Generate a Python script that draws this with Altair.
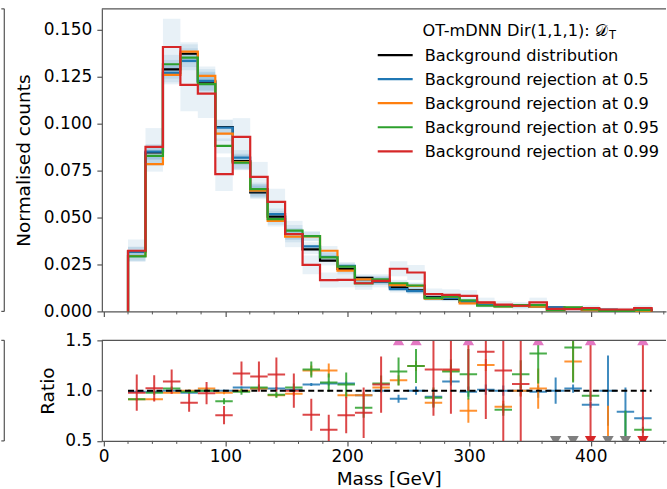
import altair as alt
import numpy as np
import pandas as pd

FONT = "DejaVu Sans"
AX = "#555555"

# ---------------- data ----------------
mass_lo, mass_hi, n_bins = 20.0, 450.0, 30
edges = np.linspace(mass_lo, mass_hi, n_bins + 1)

series_names = [
    "Background distribution",
    "Background rejection at 0.5",
    "Background rejection at 0.9",
    "Background rejection at 0.95",
    "Background rejection at 0.99",
]
series_colors = ["#000000", "#1f77b4", "#ff7f0e", "#2ca02c", "#d62728"]

hist_bkg = [0.0320, 0.0846, 0.1289, 0.1372, 0.1223, 0.0982, 0.0800, 0.0633, 0.0505, 0.0412,
            0.0330, 0.0270, 0.0226, 0.0178, 0.0160, 0.0128, 0.0112, 0.0076, 0.0066, 0.0051,
            0.0038, 0.0031, 0.0029, 0.0025, 0.0020, 0.0015, 0.0012, 0.0008, 0.0007, 0.0010]
hist_r50 = [0.0318, 0.0851, 0.1270, 0.1334, 0.1227, 0.0979, 0.0819, 0.0640, 0.0518, 0.0412,
            0.0346, 0.0291, 0.0243, 0.0170, 0.0161, 0.0119, 0.0108, 0.0072, 0.0070, 0.0050,
            0.0037, 0.0031, 0.0029, 0.0024, 0.0021, 0.0015, 0.0010, 0.0008, 0.0006, 0.0007]
hist_r90 = [0.0295, 0.0784, 0.1259, 0.1383, 0.1254, 0.0947, 0.0795, 0.0643, 0.0482, 0.0398,
            0.0400, 0.0323, 0.0217, 0.0170, 0.0166, 0.0140, 0.0136, 0.0068, 0.0078, 0.0043,
            0.0046, 0.0026, 0.0029, 0.0025, 0.0006, 0.0019, 0.0006, 0.0003, 0.0002, 0.0003]
hist_r95 = [0.0293, 0.0828, 0.1316, 0.1351, 0.1210, 0.0881, 0.0792, 0.0651, 0.0491, 0.0430,
            0.0401, 0.0288, 0.0238, 0.0149, 0.0170, 0.0150, 0.0138, 0.0071, 0.0078, 0.0059,
            0.0030, 0.0027, 0.0033, 0.0033, 0.0007, 0.0021, 0.0011, 0.0003, 0.0003, 0.0006]
hist_r99 = [0.0323, 0.0876, 0.1408, 0.1206, 0.1160, 0.0731, 0.0929, 0.0716, 0.0583, 0.0412,
            0.0248, 0.0167, 0.0168, 0.0150, 0.0163, 0.0227, 0.0207, 0.0092, 0.0088, 0.0083,
            0.0048, 0.0036, 0.0030, 0.0048, 0.0013, 0.0012, 0.0018, 0.0010, 0.0010, 0.0018]

band_err_r99 = [0.006, 0.010, 0.015, 0.014, 0.013, 0.009, 0.010, 0.008, 0.007, 0.007,
                0.005, 0.004, 0.004, 0.0035, 0.0035, 0.004, 0.004, 0.003, 0.003, 0.003,
                0.0025, 0.002, 0.002, 0.0025, 0.0015, 0.0015, 0.0015, 0.001, 0.001, 0.0015]
band_err_other = [0.0025, 0.004, 0.005, 0.005, 0.005, 0.004, 0.004, 0.0035, 0.003, 0.003,
                  0.0025, 0.0025, 0.002, 0.002, 0.002, 0.0018, 0.0016, 0.0012, 0.0012, 0.001,
                  0.0009, 0.0008, 0.0008, 0.0007, 0.0006, 0.0006, 0.0005, 0.0004, 0.0004, 0.0004]

# ratio to background (None = outside the 0.5-1.5 window / not drawn)
ratio_r50 = [0.99, 0.99, 1.00, 0.98, 1.00, 1.00, 1.03, 1.02, 1.02, 1.01,
             1.06, 1.07, 1.07, 0.955, 1.00, 0.92, 1.00, 0.94, 1.09, 0.99,
             1.01, 1.00, 1.00, 0.99, 1.00, 1.02, 0.86, 1.00, 0.79, 0.726]
rerr_r50 = [0.01, 0.01, 0.01, 0.01, 0.01, 0.01, 0.01, 0.015, 0.015, 0.015,
            0.015, 0.02, 0.02, 0.02, 0.02, 0.04, 0.04, 0.04, 0.04, 0.05,
            0.05, 0.05, 0.05, 0.06, 0.13, 0.04, 0.03, 0.35, 0.24, 0.02]
ratio_r90 = [0.915, 0.915, 0.98, 1.00, 1.02, 0.98, 1.00, 1.02, 0.955, 0.97,
             1.20, 1.20, 0.954, 0.954, 1.03, 1.104, 1.245, 0.88, 1.20, 0.80,
             1.254, 0.84, 1.00, 1.02, None, 1.29, None, 0.30, None, None]
rerr_r90 = [0.01, 0.01, 0.01, 0.01, 0.01, 0.015, 0.015, 0.015, 0.02, 0.02,
            0.05, 0.07, 0.03, 0.03, 0.04, 0.05, 0.05, 0.04, 0.05, 0.12,
            0.06, 0.06, 0.06, 0.20, 0.0, 0.20, 0.0, 0.55, 0.0, 0.0]
ratio_r95 = [0.915, 0.98, 1.02, 0.99, 1.00, 0.895, 0.99, 1.03, 0.96, 1.03,
             1.21, 1.08, 1.06, 0.83, 1.07, 1.19, 1.245, 0.93, 1.19, 1.163,
             None, 0.81, 1.163, 1.37, None, 1.43, 0.95, None, 0.40, 0.61]
rerr_r95 = [0.01, 0.02, 0.02, 0.02, 0.02, 0.03, 0.03, 0.03, 0.03, 0.04,
            0.08, 0.09, 0.12, 0.10, 0.08, 0.14, 0.17, 0.10, 0.12, 0.25,
            0.0, 0.06, 0.14, 0.30, 0.0, 0.35, 0.05, 0.0, 0.40, 0.03]
ratio_r99 = [0.98, 1.023, 1.09, 0.88, 0.975, 0.756, 1.17, 1.14, 1.16, 1.00,
             0.76, 0.61, 0.756, 0.78, 1.06, 1.80, 1.80, 1.21, 1.21, 1.80,
             1.387, 1.20, 1.066, 2.00, None, None, 1.60, None, None, 1.60]
rerr_r99 = [0.18, 0.13, 0.12, 0.09, 0.11, 0.09, 0.12, 0.15, 0.17, 0.17,
            0.16, 0.15, 0.18, 0.25, 0.28, 0.20, 0.20, 0.46, 0.44, 0.80,
            0.67, 0.75, 0.65, 0.30, 0.0, 0.0, 1.20, 0.0, 0.0, 1.20]

up_marker_bins = [16, 17, 20, 24, 27, 30]          # pink, ratio above 1.5
down_marker_grey_bins = [25, 26, 28, 29]           # grey, ratio below 0.5
down_marker_red_bins = [27, 30]                    # red, ratio below 0.5

legend_title = "OT-mDNN Dir(1,1,1): 𝒟"
legend_title_sub = "T"

# ---------------- geometry ----------------
W = 565
H_TOP = 303
H_BOT = 100.7
X_DOMAIN = [-1.5, 461.8]

hist_all = [hist_bkg, hist_r50, hist_r90, hist_r95, hist_r99]
band_all = [band_err_other, band_err_other, band_err_other, band_err_other, band_err_r99]

band_rows, step_rows = [], []
for name, vals, errs in zip(series_names, hist_all, band_all):
    for i in range(n_bins):
        band_rows.append(dict(series=name, lo=edges[i], hi=edges[i + 1],
                              vlo=vals[i] - errs[i], vhi=vals[i] + errs[i]))
    pts = [(edges[0], 0.0)] + [(edges[i], vals[i]) for i in range(n_bins)] + \
          [(edges[-1], vals[-1]), (edges[-1], 0.0)]
    for k, (xx, yy) in enumerate(pts):
        step_rows.append(dict(series=name, idx=k, x=xx, y=yy))
band_df = pd.DataFrame(band_rows)
step_df = pd.DataFrame(step_rows)

ratio_sets = [(series_names[1], ratio_r50, rerr_r50), (series_names[2], ratio_r90, rerr_r90),
              (series_names[3], ratio_r95, rerr_r95), (series_names[4], ratio_r99, rerr_r99)]
ratio_rows = []
for name, rv, re in ratio_sets:
    for i in range(n_bins):
        if rv[i] is None:
            continue
        ratio_rows.append(dict(series=name, lo=edges[i], hi=edges[i + 1],
                               c=0.5 * (edges[i] + edges[i + 1]), r=rv[i],
                               rlo=rv[i] - re[i], rhi=rv[i] + re[i]))
ratio_df = pd.DataFrame(ratio_rows)

centers = 0.5 * (edges[:-1] + edges[1:])
up_df = pd.DataFrame(dict(c=[centers[b - 1] for b in up_marker_bins], y=1.5))
dn_grey_df = pd.DataFrame(dict(c=[centers[b - 1] for b in down_marker_grey_bins], y=0.5))
dn_red_df = pd.DataFrame(dict(c=[centers[b - 1] for b in down_marker_red_bins], y=0.5))
unity_df = pd.DataFrame(dict(x0=[mass_lo], x1=[mass_hi], y=[1.0]))
minor_ticks = [t for t in range(20, 461, 20) if t % 100 != 0]
minor_df = pd.DataFrame(dict(t=minor_ticks))
one = pd.DataFrame(dict(a=[0]))

xs = alt.Scale(domain=X_DOMAIN, nice=False, zero=False)
ys_top = alt.Scale(domain=[0, 0.1611], nice=False, zero=False)
ys_bot = alt.Scale(domain=[0.5, 1.5], nice=False, zero=False)

common_axis = dict(grid=False, domainColor=AX, tickColor=AX, domainWidth=1.2, tickWidth=1.2,
                   labelFont=FONT, labelFontSize=17, labelColor="black", labelFlush=False,
                   labelOverlap=False, titleFont=FONT, titleFontSize=18.5,
                   titleFontWeight="normal", titleColor="black")
xa_top = alt.Axis(values=[0, 100, 200, 300, 400], labels=False, title=None, tickSize=5, **common_axis)
xa_bot = alt.Axis(values=[0, 100, 200, 300, 400], format="d", tickSize=5, labelPadding=3,
                  title="Mass [GeV]", titlePadding=4.5, titleX=287.3, titleAnchor="middle", **common_axis)
ya_top = alt.Axis(values=[0, 0.025, 0.05, 0.075, 0.1, 0.125, 0.15], format=".3f", tickSize=5,
                  labelPadding=5, title="Normalised counts", titlePadding=9.5, **common_axis)
ya_bot = alt.Axis(values=[0.5, 1.0, 1.5], format=".1f", tickSize=5, labelPadding=5,
                  title="Ratio", titlePadding=7, **common_axis)


def X(f, axis):
    return alt.X(f, type="quantitative", scale=xs, axis=axis)


def frame_layers(H, xaxis):
    out = []
    out.append(alt.Chart(one).mark_rule(color=AX, strokeWidth=1.2).encode(
        x=alt.value(0), x2=alt.value(W), y=alt.value(0)))
    # edge of the neighbouring panel on the left
    out.append(alt.Chart(one).mark_rule(color=AX, strokeWidth=1.2).encode(
        x=alt.value(-97.7), y=alt.value(0), y2=alt.value(H)))
    out.append(alt.Chart(one).mark_rule(color=AX, strokeWidth=1.2).encode(
        x=alt.value(-100.7), x2=alt.value(-97.7), y=alt.value(0)))
    out.append(alt.Chart(one).mark_rule(color=AX, strokeWidth=1.2).encode(
        x=alt.value(-100.7), x2=alt.value(-97.7), y=alt.value(H)))
    # minor x ticks
    out.append(alt.Chart(minor_df).mark_rule(color=AX, strokeWidth=1.0).encode(
        x=X("t", xaxis), y=alt.value(H), y2=alt.value(H + 3)))
    return out


# ---------------- top panel ----------------
top_layers = []
for name in series_names:
    top_layers.append(alt.Chart(band_df[band_df.series == name]).mark_rect(
        color="#1f77b4", opacity=0.1).encode(
        x=X("lo", xa_top), x2="hi",
        y=alt.Y("vlo", type="quantitative", scale=ys_top, axis=ya_top), y2="vhi"))
for name, col in zip(series_names, series_colors):
    top_layers.append(alt.Chart(step_df[step_df.series == name]).mark_line(
        interpolate="step-after", color=col, strokeWidth=2.2).encode(
        x=X("x", xa_top), y=alt.Y("y", type="quantitative", scale=ys_top, axis=ya_top),
        order=alt.Order("idx:Q")))

# legend
X0, Y0 = 101.7, 8.0
leg_rows_y = [54.3, 78.4, 102.5, 126.6, 150.7]
for name, col, yy in zip(series_names, series_colors, leg_rows_y):
    top_layers.append(alt.Chart(one).mark_rule(color=col, strokeWidth=2.2).encode(
        x=alt.value(378 - X0), x2=alt.value(413 - X0), y=alt.value(yy - Y0)))
    top_layers.append(alt.Chart(one).mark_text(
        align="left", baseline="middle", font=FONT, fontSize=16.2, color="black").encode(
        x=alt.value(425 - X0), y=alt.value(yy - Y0 + 1), text=alt.value(name)))
top_layers.append(alt.Chart(one).mark_text(
    align="right", baseline="alphabetic", font=FONT, fontSize=16.2, color="black").encode(
    x=alt.value(608.5 - X0), y=alt.value(35.5 - Y0), text=alt.value(legend_title)))
top_layers.append(alt.Chart(one).mark_text(
    align="left", baseline="alphabetic", font=FONT, fontSize=11.5, color="black").encode(
    x=alt.value(609.5 - X0), y=alt.value(38 - Y0), text=alt.value(legend_title_sub)))
top_layers += frame_layers(H_TOP, xa_top)

top = alt.layer(*top_layers).properties(width=W, height=H_TOP)

# ---------------- ratio panel ----------------
bot_layers = []
for name, col in zip(series_names[1:], series_colors[1:]):
    d = ratio_df[ratio_df.series == name]
    bot_layers.append(alt.Chart(d).mark_rule(color=col, strokeWidth=2, opacity=0.85, clip=True).encode(
        x=X("c", xa_bot), y=alt.Y("rlo", type="quantitative", scale=ys_bot, axis=ya_bot), y2="rhi"))
    bot_layers.append(alt.Chart(d).mark_rule(color=col, strokeWidth=2, opacity=0.85, clip=True).encode(
        x=X("lo", xa_bot), x2="hi", y=alt.Y("r", type="quantitative", scale=ys_bot, axis=ya_bot)))
bot_layers.append(alt.Chart(unity_df).mark_rule(color="black", strokeWidth=2, strokeDash=[6, 3.5]).encode(
    x=X("x0", xa_bot), x2="x1", y=alt.Y("y", type="quantitative", scale=ys_bot, axis=ya_bot)))
bot_layers.append(alt.Chart(up_df).mark_point(shape="triangle-up", filled=True, size=130, opacity=1,
                                              color="#e377c2", clip=True).encode(
    x=X("c", xa_bot), y=alt.Y("y", type="quantitative", scale=ys_bot, axis=ya_bot)))
bot_layers.append(alt.Chart(dn_grey_df).mark_point(shape="triangle-down", filled=True, size=130, opacity=1,
                                                   color="#7f7f7f", clip=True).encode(
    x=X("c", xa_bot), y=alt.Y("y", type="quantitative", scale=ys_bot, axis=ya_bot)))
bot_layers.append(alt.Chart(dn_red_df).mark_point(shape="triangle-down", filled=True, size=130, opacity=1,
                                                  color="#d62728", clip=True).encode(
    x=X("c", xa_bot), y=alt.Y("y", type="quantitative", scale=ys_bot, axis=ya_bot)))
bot_layers += frame_layers(H_BOT, xa_bot)

bottom = alt.layer(*bot_layers).properties(width=W, height=H_BOT)

chart = alt.vconcat(top, bottom, spacing=12).properties(
    padding={"left": 0, "top": 7.5, "right": 0, "bottom": 0},
    background="white",
).configure_view(stroke=None)

chart.save("out.html", embed_options={"renderer": "svg", "actions": False})
